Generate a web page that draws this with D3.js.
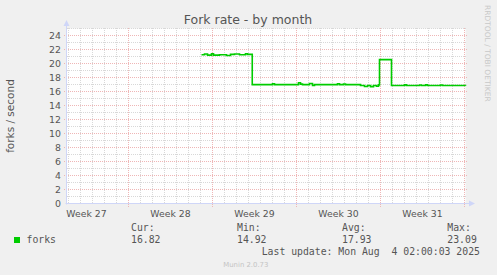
<!DOCTYPE html>
<html><head><meta charset="utf-8">
<script src="https://cdn.jsdelivr.net/npm/d3@7"></script>
<style>
html,body{margin:0;padding:0;background:#F0F0F0;}
svg{display:block;}
</style></head>
<body>
<script>
// ---- data ----
const chartTitle = "Fork rate - by month";
const yAxisLabel = "forks / second";
const yTickValues = [0, 2, 4, 6, 8, 10, 12, 14, 16, 18, 20, 22, 24];
const weekLabels = ["Week 27", "Week 28", "Week 29", "Week 30", "Week 31"];
const weekStarts = ["2025-06-30T00:00", "2025-07-07T00:00", "2025-07-14T00:00", "2025-07-21T00:00", "2025-07-28T00:00", "2025-08-04T00:00"];
const rangeStart = "2025-07-01T20:00";
const rangeEnd = "2025-08-04T02:00";
const pointTimes = [
  "2025-07-13T02:00","2025-07-13T08:00","2025-07-13T14:00","2025-07-13T22:00","2025-07-14T02:00",
  "2025-07-14T14:00","2025-07-15T04:00","2025-07-15T12:00","2025-07-15T20:00","2025-07-16T06:00",
  "2025-07-16T18:00","2025-07-16T22:00","2025-07-17T07:30","2025-07-19T00:00","2025-07-19T04:00",
  "2025-07-21T04:00","2025-07-21T08:00","2025-07-21T12:00","2025-07-22T02:00","2025-07-22T08:00",
  "2025-07-22T12:00","2025-07-24T10:00","2025-07-24T14:00","2025-07-24T22:00","2025-07-25T02:00",
  "2025-07-26T08:00","2025-07-26T16:00","2025-07-26T22:00","2025-07-27T04:00","2025-07-27T10:00",
  "2025-07-27T16:00","2025-07-27T20:00","2025-07-27T22:00","2025-07-28T22:00","2025-07-30T00:00",
  "2025-07-30T04:00","2025-07-31T06:00","2025-07-31T10:00","2025-07-31T18:00","2025-07-31T22:00",
  "2025-08-02T00:00","2025-08-02T04:00","2025-08-04T02:00"
];
const forkValues = [
  21.25,21.35,21.2,21.4,21.2,
  21.25,21.15,21.3,21.35,21.25,
  21.4,21.3,16.98,17.1,16.98,
  17.25,17.05,16.98,17.15,16.85,
  16.98,17.1,16.98,17.08,16.98,
  16.85,16.72,16.85,16.7,16.85,
  16.75,16.95,20.55,16.85,16.95,
  16.85,16.93,16.85,16.95,16.85,
  16.93,16.85,16.82
];
const legendName = "forks";
const legendHeaders = ["Cur:", "Min:", "Avg:", "Max:"];
const legendStats = ["16.82", "14.92", "17.93", "23.09"];
const lastUpdate = "Last update: Mon Aug  4 02:00:03 2025";
const footer = "Munin 2.0.73";
const watermark = "RRDTOOL / TOBI OETIKER";

// ---- drawing ----
const W = 497, H = 275;
const parse = d3.utcParse("%Y-%m-%dT%H:%M");
const svg = d3.select("body").append("svg").attr("width", W).attr("height", H);
svg.append("rect").attr("width", W).attr("height", H).attr("fill", "#F0F0F0");

const x0 = 66.5, x1 = 465.5, yTop = 28.5, yBot = 203.5;
const x = d3.scaleUtc().domain([parse(rangeStart), parse(rangeEnd)]).range([x0, x1]);
const y = d3.scaleLinear().domain([0, 25]).range([yBot, yTop]);

svg.append("rect").attr("x", x0).attr("y", yTop).attr("width", x1 - x0).attr("height", yBot - yTop).attr("fill", "#FFFFFF");

const minorCol = "#d8d8d8", majorCol = "#efb6b6";
const g = svg.append("g");
// minor horizontal
g.selectAll(".hmin").data(d3.range(1, 26).filter(v => v % 2 === 1)).join("line")
  .attr("x1", 67).attr("x2", 466).attr("y1", d => y(d)).attr("y2", d => y(d))
  .attr("stroke", minorCol).attr("stroke-dasharray", "1,1");
// minor vertical (days)
const weekDates = weekStarts.map(parse).filter(d => d >= x.domain()[0] && d <= x.domain()[1]);
const days = d3.utcDay.range(parse(rangeStart), parse(rangeEnd)).filter(d => d.getUTCDay() !== 1);
g.selectAll(".vmin").data(days).join("line")
  .attr("x1", d => x(d)).attr("x2", d => x(d)).attr("y1", 28).attr("y2", 203)
  .attr("stroke", minorCol).attr("stroke-dasharray", "1,1");
// major horizontal
g.selectAll(".hmaj").data(yTickValues.filter(v => v > 0)).join("line")
  .attr("x1", 64).attr("x2", 468).attr("y1", d => y(d)).attr("y2", d => y(d))
  .attr("stroke", majorCol).attr("stroke-dasharray", "1,1");
// major vertical (weeks)
g.selectAll(".vmaj").data(weekDates).join("line")
  .attr("x1", d => x(d)).attr("x2", d => x(d)).attr("y1", 28).attr("y2", 207)
  .attr("stroke", majorCol).attr("stroke-dasharray", "1,1");

// axes (rrdtool style)
const axisCol = "#CFD6F8";
svg.append("line").attr("x1", x0).attr("x2", x0).attr("y1", yBot + 1).attr("y2", 23).attr("stroke", axisCol);
svg.append("line").attr("x1", x0 - 1).attr("x2", 470).attr("y1", yBot).attr("y2", yBot).attr("stroke", axisCol);
svg.append("path").attr("d", `M${x0 - 3},${26} L${x0 + 3},${26} L${x0},${20} Z`).attr("fill", axisCol);
svg.append("path").attr("d", `M${469},${yBot - 3} L${469},${yBot + 3} L${475},${yBot} Z`).attr("fill", axisCol);

// y tick labels
const font = "'DejaVu Sans', sans-serif";
svg.append("g").selectAll("text").data(yTickValues).join("text")
  .attr("x", 61).attr("y", d => y(d) + 3.6)
  .attr("text-anchor", "end").attr("font-family", font).attr("font-size", "9.4px").attr("fill", "#555")
  .text(d => d);

// week labels (centered in week)
const wk = weekStarts.map(parse);
svg.append("g").selectAll("text").data(weekLabels).join("text")
  .attr("x", (d, i) => (x(wk[i]) + x(wk[i + 1])) / 2).attr("y", 216.5)
  .attr("text-anchor", "middle").attr("font-family", font).attr("font-size", "9.3px").attr("fill", "#555")
  .text(d => d);

// line
const series = pointTimes.map((t, i) => ({ t: parse(t), v: forkValues[i] }));
svg.append("path").datum(series)
  .attr("d", d3.line().x(d => x(d.t)).y(d => y(d.v)).curve(d3.curveStepAfter))
  .attr("fill", "none").attr("stroke", "#00CC00").attr("stroke-width", 1.6);

// title
svg.append("text").attr("x", 248).attr("y", 24).attr("text-anchor", "middle")
  .attr("font-family", font).attr("font-size", "12.5px").attr("fill", "#555").text(chartTitle);

// y label
svg.append("text").attr("transform", `translate(13.5,${(yTop + yBot) / 2}) rotate(-90)`)
  .attr("text-anchor", "middle").attr("font-family", font).attr("font-size", "10.5px").attr("fill", "#555").text(yAxisLabel);

// watermark
svg.append("text").attr("transform", `translate(485,5) rotate(90)`)
  .attr("font-family", font).attr("font-size", "7.5px").attr("fill", "#c8c8c8").text(watermark);

// legend
const mono = "'DejaVu Sans Mono', monospace";
svg.append("rect").attr("x", 14).attr("y", 237).attr("width", 6).attr("height", 6).attr("fill", "#00CC00");
svg.append("text").attr("x", 26.5).attr("y", 242.5).attr("font-family", mono).attr("font-size", "9.8px").attr("fill", "#555").text(legendName);
const colX = [131, 237, 342, 447.3];
svg.append("g").selectAll("text").data(legendHeaders).join("text")
  .attr("x", (d, i) => colX[i]).attr("y", 231).attr("font-family", mono).attr("font-size", "9.8px").attr("fill", "#555").text(d => d);
svg.append("g").selectAll("text").data(legendStats).join("text")
  .attr("x", (d, i) => colX[i]).attr("y", 242.5).attr("font-family", mono).attr("font-size", "9.8px").attr("fill", "#555").text(d => d);
svg.append("text").attr("x", 261.7).attr("y", 254.5).attr("font-family", mono).attr("font-size", "9.8px")
  .attr("fill", "#555").attr("xml:space", "preserve").style("white-space", "pre").text(lastUpdate);
svg.append("text").attr("x", 223.3).attr("y", 267).attr("font-family", font).attr("font-size", "6.9px").attr("fill", "#c4c4c4").text(footer);
</script>
</body></html>
